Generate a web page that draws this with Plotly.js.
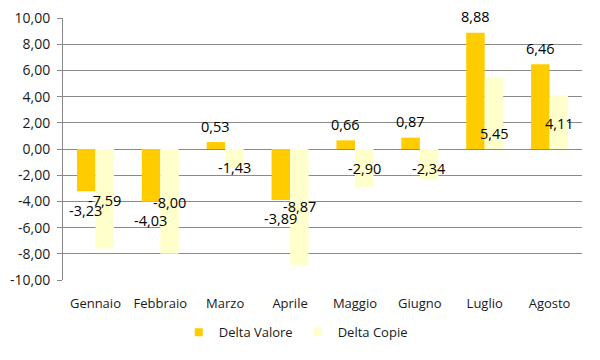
<!DOCTYPE html>
<html>
<head>
<meta charset="utf-8">
<script src="https://cdn.plot.ly/plotly-3.0.1.min.js"></script>
<style>html,body{margin:0;padding:0;background:#fff;}#chart{width:600px;height:360px;}</style>
</head>
<body>
<div id="chart"></div>
<script>
const months = ["Gennaio", "Febbraio", "Marzo", "Aprile", "Maggio", "Giugno", "Luglio", "Agosto"];
const deltaValore = [-3.23, -4.03, 0.53, -3.89, 0.66, 0.87, 8.88, 6.46];
const deltaCopie = [-7.59, -8.00, -1.43, -8.87, -2.90, -2.34, 5.45, 4.11];
// where the "Delta Copie" labels sit on the value scale (hand-placed in the original)
const copieLabelAt = [-3.92, -4.08, -1.43, -4.38, -1.5, -1.45, 1.21, 1.96];
const yTicks = [-10, -8, -6, -4, -2, 0, 2, 4, 6, 8, 10];

const fmt = v => v.toFixed(2).replace('.', ',');
const gridColor = '#8a8a8a';
const fam = 'Open Sans, sans-serif';
const textColor = '#1a1a1a';
const colValore = '#FFCC00';
const colCopie = '#FFFFCC';

const traces = [
  {type: 'bar', name: 'Delta Valore', x: months, y: deltaValore,
   marker: {color: colValore}, hoverinfo: 'none', showlegend: false},
  {type: 'bar', name: 'Delta Copie', x: months, y: deltaCopie,
   marker: {color: colCopie}, hoverinfo: 'none', showlegend: false},
  // legend entries with small square keys
  {type: 'scatter', mode: 'markers', name: 'Delta Valore', x: [null], y: [null],
   marker: {symbol: 'square', size: 8, color: colValore}, hoverinfo: 'none'},
  {type: 'scatter', mode: 'markers', name: 'Delta Copie', x: [null], y: [null],
   marker: {symbol: 'square', size: 8, color: colCopie}, hoverinfo: 'none'}
];

const annotations = [];
months.forEach((m, i) => {
  const v = deltaValore[i];
  annotations.push({x: i, y: v, xref: 'x', yref: 'y', text: fmt(v), showarrow: false,
    xshift: -9.5, yshift: v >= 0 ? 16 : -19, font: {family: fam, size: 14.5, color: '#000'}});
  annotations.push({x: i, y: copieLabelAt[i], xref: 'x', yref: 'y', text: fmt(deltaCopie[i]), showarrow: false,
    xshift: 9.5, font: {family: fam, size: 14.5, color: '#000'}});
});

const layout = {
  width: 600, height: 360,
  margin: {l: 63, r: 18, t: 18, b: 77},
  paper_bgcolor: '#fff', plot_bgcolor: '#fff',
  font: {family: fam, size: 13, color: textColor},
  barmode: 'group', bargap: 0.43, bargroupgap: 0,
  showlegend: true,
  legend: {orientation: 'h', x: 0.223, xanchor: 'left', y: -0.2, yanchor: 'middle',
    font: {family: fam, size: 13, color: textColor}, traceorder: 'normal'},
  xaxis: {type: 'category', categoryarray: months, showgrid: false, zeroline: false,
    showline: false, ticks: '', tickfont: {family: fam, size: 13, color: textColor},
    ticklabelstandoff: 14, range: [-0.5, 7.5], fixedrange: true},
  xaxis2: {overlaying: 'x', anchor: 'free', position: 0.5, range: [-0.5, 7.5],
    tickvals: [-0.5, 0.5, 1.5, 2.5, 3.5, 4.5, 5.5, 6.5, 7.5], showticklabels: false,
    ticks: 'outside', ticklen: 4, tickcolor: gridColor, showline: true, linecolor: gridColor,
    linewidth: 1, showgrid: false, zeroline: false, side: 'bottom'},
  yaxis: {range: [-10, 10], tickvals: yTicks, ticktext: yTicks.map(fmt), showgrid: true,
    gridcolor: gridColor, gridwidth: 1, zeroline: false, showline: true, linecolor: gridColor,
    linewidth: 1, ticks: 'outside', ticklen: 5, tickcolor: gridColor,
    tickfont: {family: fam, size: 14, color: textColor}, ticklabelstandoff: 4, fixedrange: true},
  annotations: annotations
};

Plotly.newPlot('chart', traces, layout, {displayModeBar: false, staticPlot: true});
</script>
</body>
</html>
